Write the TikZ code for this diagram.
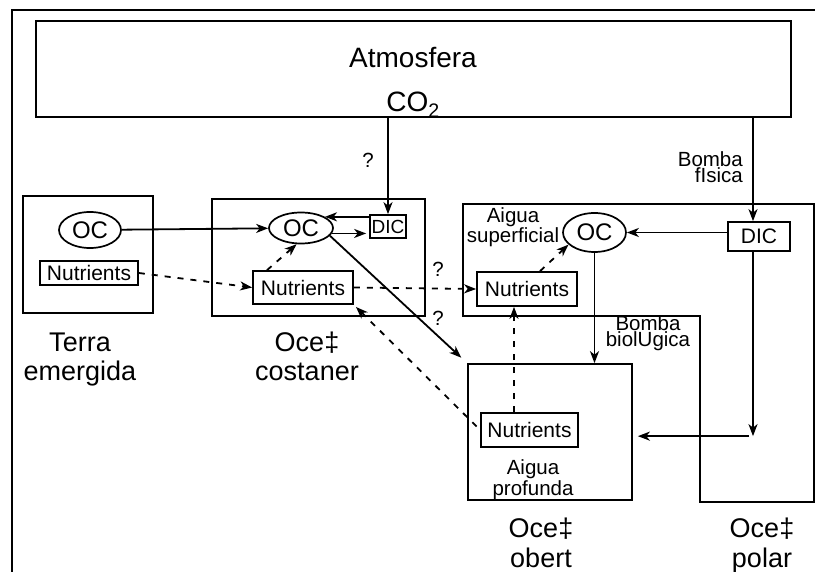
\documentclass[tikz,border=0pt]{standalone}
\usepackage{fontspec}
\setmainfont{Liberation Sans}
\usetikzlibrary{arrows.meta,shapes.geometric}
\newcommand\myfs[2]{\fontsize{#1}{#2}\selectfont}
\begin{document}
\begin{tikzpicture}[x=1pt,y=-1pt,
  frame/.style={line width=2.2pt},
  box/.style={draw,line width=1.7pt,inner sep=0pt},
  oval/.style={ellipse,draw,line width=1.7pt,inner sep=0pt,font=\myfs{24}{24}},
  nut/.style={box,font=\myfs{21}{21}},
  arr/.style={line width=1.8pt,-{Stealth[length=12pt,width=9pt,inset=3.5pt]}},
  dsh/.style={arr,dash pattern=on 6pt off 7pt},
  lbl/.style={font=\myfs{20.5}{16},align=center,inner sep=0pt},
  big/.style={font=\myfs{27}{29.5},align=center,inner sep=0pt},
]
\useasboundingbox (0,0) rectangle (815,572);
\draw[frame] (12,572) -- (12,10) -- (815,10);

% atmosphere
\node[box,line width=1.5pt,minimum width=755pt,minimum height=96pt] (atm) at (413.5,69) {};
\node[font=\myfs{28}{28},anchor=base,inner sep=0pt] (atmT) at (413,68) {Atmosfera};
\node[font=\myfs{28}{28},anchor=base,inner sep=0pt] (co2) at (413,112) {CO\textsubscript{2}};

% land
\node[box,minimum width=130pt,minimum height=117pt] (terra) at (88,254.5) {};
\node[oval,minimum width=62pt,minimum height=36pt] (tOC) at (90,230) {OC};
\node[nut,minimum width=98pt,minimum height=24pt] (tNut) at (89,273) {Nutrients};

% coastal ocean
\node[box,minimum width=213pt,minimum height=117pt] (coast) at (318.5,257.5) {};
\node[oval,minimum width=64pt,minimum height=31pt] (cOC) at (301,228) {OC};
\node[box,font=\myfs{19}{19},minimum width=36pt,minimum height=23pt] (cDIC) at (388,226.5) {DIC};
\node[nut,minimum width=100pt,minimum height=33pt] (cNut) at (303,287.5) {Nutrients};

% open / polar ocean outline
\draw[line width=1.7pt] (463,204) -- (814,204) -- (814,502) -- (700,502) -- (700,316) -- (463,316) -- cycle;
\node[oval,minimum width=63pt,minimum height=39pt] (oOC) at (594.5,232.5) {OC};
\node[box,font=\myfs{21}{21},minimum width=62pt,minimum height=29pt] (oDIC) at (759,236.5) {DIC};
\node[nut,minimum width=100pt,minimum height=34pt] (oNut) at (527,289) {Nutrients};

% deep water
\node[box,minimum width=164pt,minimum height=136pt] (deep) at (550,432) {};
\node[nut,minimum width=97pt,minimum height=34pt] (dNut) at (529.5,430) {Nutrients};

% small labels (anchor base = last line)
\node[lbl,anchor=base] (q1) at (368,168) {?};
\node[lbl,anchor=base] (q2) at (438,277) {?};
\node[lbl,anchor=base] (q3) at (438,326) {?};
\node[lbl,align=right,anchor=base east] (bf) at (743,183) {Bomba\\fIsica};
\node[lbl,anchor=base] (bb) at (648,347) {Bomba\\biolUgica};
\node[lbl,font=\myfs{20.5}{16.5},anchor=base] (as) at (513,243) {Aigua\\superficial};
\node[lbl,font=\myfs{20.5}{18},anchor=base] (ap) at (533,495) {Aigua\\profunda};

% region labels
\node[big,anchor=base] (lt) at (80,381) {Terra\\emergida};
\node[big,anchor=base] (lc) at (307,381) {Oce‡\\costaner};
\node[big,anchor=base] (lo) at (541,567) {Oce‡\\obert};
\node[big,anchor=base] (lp) at (762,567) {Oce‡\\polar};

% connectors
\draw[arr] (cDIC.north |- atm.south) -- (cDIC.north);
\coordinate (pv) at ([xshift=-6pt]oDIC.north);
\draw[arr] (pv |- atm.south) -- (pv);
\draw[arr] (tOC) -- (cOC);
\draw[arr] (cDIC.west |- cOC.25) -- (cOC.25);
\draw[arr,shorten >=3pt] (cOC.-10) -- (cDIC.west |- cOC.-10);
\draw[dsh] (tNut.east) -- (cNut.west);
\draw[dsh] ([xshift=-36pt]cNut.north) -- (cOC.-105);
\draw[arr,shorten >=8pt] (cOC.-15) -- (deep.north west);
\draw[dsh] (cNut.east) -- (oNut.west);
\draw[dsh,shorten <=5pt,shorten >=3pt] (dNut.west) -- (cNut.south east);
\draw[dsh] ([xshift=13pt]oNut.north) -- (oOC.-155);
\draw[arr] (oDIC.west |- oOC.east) -- (oOC.east);
\draw[arr] (oOC.south) -- (oOC.south |- deep.north);
\coordinate (v1) at ([xshift=-13pt]oNut.south);
\draw[dsh] (v1 |- dNut.north) -- (v1);
\path (pv) ++(0,215) coordinate (pc);
\draw[arr] (pv |- oDIC.south) -- (pc);
\draw[arr,shorten >=5pt] ([xshift=-4pt]pc) -- (deep.east |- pc);
\end{tikzpicture}
\end{document}
